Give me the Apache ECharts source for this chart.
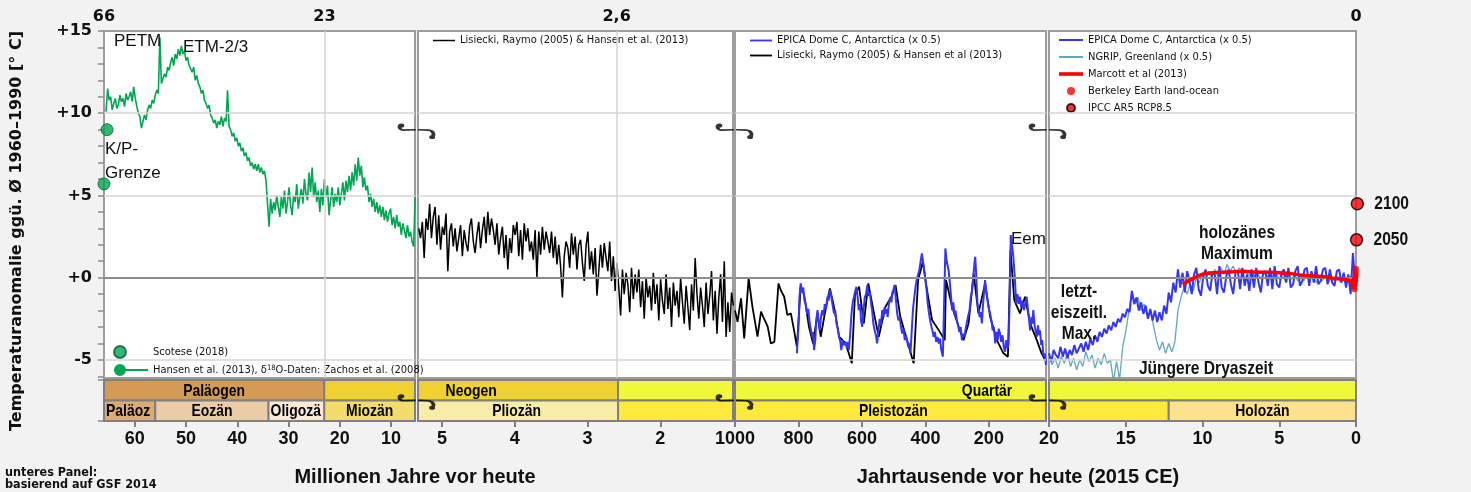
<!DOCTYPE html>
<html>
<head>
<meta charset="utf-8">
<script src="https://cdn.jsdelivr.net/npm/echarts@6.0.0/dist/echarts.min.js"></script>
<style>
html,body{margin:0;padding:0;background:#f2f2f2;overflow:hidden}
#c{width:1471px;height:492px}
</style>
</head>
<body>
<div id="c"></div>
<script>
// ================= DATA =================
// Panel 1 (Ma): Hansen et al. green curve, regular sampling
const greenStart = 65.6, greenStep = 0.3;
const greenValues = [
10.1,11.5,10.8,11.0,10.2,10.6,10.9,10.3,10.5,11.1,
10.7,10.9,10.4,11.2,10.8,11.0,11.3,10.7,11.6,10.9,
10.4,10.0,9.8,9.1,9.5,9.9,9.6,10.2,10.5,10.3,
10.8,10.6,11.1,11.4,11.2,14.6,11.8,12.1,12.4,12.2,
12.8,12.6,13.1,13.4,12.9,13.6,13.3,13.9,13.5,14.1,
13.6,13.8,13.2,13.4,12.9,12.7,12.5,12.8,12.0,12.3,
11.8,11.6,11.2,11.4,10.8,10.6,10.3,10.5,9.9,9.7,
9.4,9.6,9.1,9.5,9.3,9.8,9.2,9.7,9.5,11.4,
9.2,9.0,8.6,8.8,8.3,8.5,8.0,8.2,7.7,7.9,
7.4,7.6,7.1,7.3,6.8,7.0,6.6,6.9,6.5,6.9,
6.4,6.7,6.3,6.5,5.9,6.0,3.1,4.8,3.9,4.6,
4.1,5.0,4.3,3.7,4.9,4.2,5.3,3.9,4.6,5.5,
4.4,3.8,5.0,4.6,5.7,4.2,4.9,5.4,4.5,6.0,
5.1,4.7,6.4,5.2,6.7,4.9,5.8,4.6,5.3,4.0,
5.4,4.4,6.0,4.9,5.6,3.8,4.7,5.5,4.3,5.1,
4.6,5.5,4.4,5.1,5.8,4.7,5.9,5.2,6.2,5.3,
6.4,5.6,6.9,5.9,7.3,6.2,6.8,5.5,6.1,5.3,
5.6,4.6,5.1,4.3,4.8,4.0,4.6,3.9,4.4,3.7,
4.3,3.5,4.1,3.4,3.9,4.2,3.2,3.7,3.0,3.8,
3.1,3.4,2.6,3.3,2.9,2.4,3.2,2.5,2.8,2.2,1.9,4.9
];
const scoteseT = [65.4, 66.0];
const scoteseV = [9.0, 5.7];

// Panel 2 (Ma): Lisiecki & Raymo / Hansen black curve, regular sampling
const lr2Start = 5.32, lr2Step = 0.025;
const lr2Values = [
3.0,2.4,3.4,1.2,3.6,2.9,4.5,2.4,3.7,4.3,
2.0,3.8,1.7,3.1,2.6,3.9,0.4,2.8,3.3,1.9,
3.0,1.6,2.4,3.2,1.3,2.9,2.1,1.6,3.1,3.6,
2.2,1.5,2.6,3.4,1.8,2.9,3.7,2.1,4.0,2.6,
3.6,2.9,2.0,3.3,1.4,2.4,3.1,1.2,2.6,0.5,
2.4,1.5,3.2,2.6,3.4,1.3,2.9,1.1,3.3,2.2,
3.0,1.6,2.2,1.1,2.9,0.0,2.8,1.4,3.1,1.7,
2.8,2.2,1.5,2.8,1.2,2.5,0.8,2.0,0.7,-1.2,
1.3,2.2,1.8,0.6,2.7,1.4,2.5,0.5,2.0,2.3,
0.9,-0.2,1.9,2.8,0.5,1.6,0.2,1.8,-1.1,0.4,
2.0,0.6,2.1,1.2,0.4,2.2,-0.2,1.3,-0.8,0.9,
-0.6,-2.3,0.5,-1.0,0.3,-0.4,-2.1,0.6,-1.3,0.2,
-0.9,0.5,-1.8,-0.2,-2.5,0.0,-1.2,-0.5,-2.0,0.3,
-1.6,-0.4,-2.6,-0.1,-1.4,-2.2,0.2,-1.9,-0.6,-3.0,
-0.3,-1.7,-0.8,-2.4,0.0,-1.5,-2.8,-0.5,-1.8,-3.2,
-0.4,-2.0,1.2,-1.0,-2.5,-0.6,-1.7,-3.0,-0.3,-2.2,
-1.1,0.4,-2.6,-0.8,-3.4,-1.2,0.2,-2.7,1.0,-3.6,
-1.5,-3.3,-0.9,-1.7
];

// Panel 3 (ka): black (Lisiecki/Hansen) and blue (EPICA x0.5), [ka, °C]
const lr3Pairs = [[1000,-2.0],[992,-2.68],[981,-1.26],[971,-3.69],[957,-0.04],[945,-1.77],[929,-3.59],[918,-2.07],[911,-2.38],[897,-2.98],[887,-4.0],[876,-3.9],[863,-0.35],[856,-0.75],[845,-1.16],[835,-2.27],[824,-2.17],[814,-3.19],[805,-4.2],[793,-0.55],[782,-1.06],[767,-2.98],[754,-4.0],[740,-2.17],[730,-3.59],[714,-1.87],[701,-0.65],[688,-1.77],[672,-3.59],[651,-4.0],[632,-5.21],[622,-1.06],[609,-0.55],[594,-2.78],[580,-0.35],[562,-2.17],[547,-3.59],[526,-1.77],[507,-1.16],[494,-0.45],[479,-2.38],[458,-3.8],[437,-5.21],[423,-0.14],[408,0.97],[395,-0.75],[379,-2.58],[358,-3.19],[339,-3.8],[335,-0.14],[316,-1.77],[295,-2.98],[280,-3.8],[264,-2.78],[248,0.26],[233,-2.17],[212,-0.35],[196,-2.38],[175,-3.8],[154,-4.6],[140,-4.81],[132,1.68],[120,-1.36],[102,-2.17],[86,-1.16],[70,-2.78],[49,-3.8],[34,-4.6],[20,-5.1]];
const epica3Pairs = [[805,-4.6],[800,-3.0],[797,-1.2],[793,-0.35],[789,-0.9],[785,-0.6],[781,-1.4],[777,-1.57],[773,-2.2],[769,-1.9],[765,-2.7],[761,-2.78],[757,-3.6],[754,-3.3],[751,-4.4],[747,-3.8],[744,-2.6],[740,-1.97],[737,-2.6],[733,-3.2],[729,-2.4],[725,-1.97],[721,-2.3],[717,-1.6],[713,-1.9],[709,-1.16],[705,-1.4],[701,-0.75],[697,-1.1],[693,-1.6],[688,-2.17],[684,-2.0],[680,-2.8],[676,-3.1],[672,-3.6],[668,-3.9],[665,-4.4],[661,-3.8],[657,-4.1],[651,-3.9],[647,-4.3],[644,-3.9],[641,-4.4],[637,-3.4],[633,-2.2],[629,-1.5],[625,-1.16],[621,-0.8],[617,-0.55],[613,-1.3],[610,-1.97],[606,-1.6],[603,-2.6],[599,-2.99],[595,-2.0],[591,-1.2],[587,-1.0],[583,-0.45],[579,-1.1],[575,-0.9],[571,-1.6],[568,-1.97],[564,-2.8],[560,-3.2],[556,-3.5],[552,-4.0],[548,-3.2],[544,-2.5],[540,-2.9],[536,-1.97],[532,-2.4],[529,-1.8],[526,-2.2],[522,-1.9],[519,-2.4],[515,-1.57],[511,-1.2],[507,-1.5],[504,-0.9],[500,-0.7],[497,-0.45],[493,-1.3],[489,-2.17],[485,-2.6],[481,-2.4],[477,-3.0],[473,-3.4],[469,-3.1],[465,-3.8],[461,-3.5],[458,-3.8],[454,-4.2],[450,-4.0],[447,-4.6],[443,-3.2],[439,-1.9],[435,-1.2],[431,-0.55],[427,-0.1],[423,0.2],[419,0.47],[415,1.0],[411,1.48],[407,0.9],[404,0.5],[400,-0.14],[396,-0.8],[393,-1.5],[390,-1.97],[386,-2.5],[382,-2.9],[378,-3.2],[374,-3.6],[370,-3.3],[366,-3.9],[362,-3.6],[358,-4.0],[354,-3.7],[350,-4.4],[345,-4.8],[341,-1.5],[337,1.78],[333,1.0],[330,0.9],[327,0.47],[323,-0.3],[319,-1.2],[316,-1.97],[312,-1.5],[308,-2.3],[305,-2.0],[301,-2.58],[297,-2.9],[293,-3.3],[289,-3.0],[285,-3.8],[281,-3.4],[277,-3.6],[273,-3.1],[269,-3.0],[265,-2.3],[261,-2.0],[257,-1.16],[253,-0.8],[248,0.3],[245,1.0],[243,1.27],[240,0.2],[236,-1.57],[233,-1.9],[229,-2.4],[226,-2.1],[222,-2.78],[219,-1.8],[215,-0.8],[212,-0.14],[208,-0.9],[204,-1.4],[200,-1.9],[196,-2.17],[192,-2.6],[188,-3.2],[184,-3.0],[180,-4.0],[176,-3.3],[172,-3.8],[169,-3.1],[165,-3.4],[161,-3.9],[157,-3.5],[153,-4.2],[149,-4.5],[145,-3.8],[141,-4.3],[138,-4.0],[134,-1.0],[131,2.59],[127,2.0],[123,1.27],[119,0.2],[116,-0.8],[114,-1.57],[110,-1.0],[106,-1.6],[102,-1.16],[98,-1.8],[94,-1.4],[89,-1.97],[85,-1.5],[81,-1.16],[77,-1.9],[73,-2.6],[70,-3.2],[66,-2.4],[63,-2.8],[60,-1.97],[56,-2.9],[52,-3.3],[49,-3.6],[45,-2.9],[42,-3.5],[39,-3.2],[35,-4.1],[32,-3.8],[28,-4.8],[24,-4.6],[20,-5.3]];

// Panel 4 (ka): EPICA blue, NGRIP teal (regular sampling), Marcott red
const epica4Start = 20, epica4Step = 0.15;
const epica4Values = [
-4.6,-5.1,-4.4,-4.7,-4.9,-4.2,-4.8,-4.3,-4.9,-4.4,
-4.7,-4.1,-4.6,-4.3,-4.0,-4.5,-3.9,-4.4,-3.7,-4.1,
-3.5,-3.9,-3.3,-3.6,-3.1,-3.4,-2.9,-3.2,-2.7,-3.0,
-2.5,-2.7,-2.2,-2.4,-1.9,-2.1,-0.8,-1.6,-1.2,-2.0,
-1.5,-2.2,-1.7,-2.5,-1.9,-2.6,-2.0,-2.7,-2.1,-2.6,
-1.7,-2.2,-0.9,-1.5,-0.3,-0.9,0.5,-0.6,0.3,-0.9,
0.4,-0.2,-1.0,0.2,0.6,-0.7,-1.1,0.1,0.5,-0.5,
-0.8,0.3,0.2,-1.0,0.7,-0.6,-0.9,0.1,0.5,-0.4,
-1.0,0.3,0.4,-0.7,0.6,-0.5,0.2,-0.8,0.5,-0.6,
0.6,-0.3,-0.9,0.3,0.4,-0.5,0.6,-0.7,0.7,-0.4,
-0.6,0.3,0.5,-0.3,0.6,-0.6,-0.4,0.4,0.7,-0.5,
-0.2,0.5,0.6,-0.5,0.4,-0.3,0.7,-0.4,-0.2,0.5,
0.6,-0.4,0.5,-0.3,-0.5,0.4,0.5,-0.3,0.3,-0.6,
0.2,-1.0,1.5,-0.5
];
const ngripStart = 20, ngripStep = 0.2;
const ngripValues = [
-4.7,-5.3,-4.9,-5.5,-4.8,-5.2,-4.6,-5.4,-4.9,-5.6,
-5.0,-5.4,-4.5,-5.1,-4.7,-5.5,-4.9,-5.3,-4.6,-5.2,
-5.0,-6.3,-5.1,-6.2,-4.2,-3.3,-2.1,-0.8,-1.6,-1.2,
-2.0,-1.6,-2.4,-2.0,-2.9,-3.8,-4.4,-3.9,-4.6,-4.0,
-4.5,-3.9,-2.0,-1.2,-0.6,-1.0,-0.4,-0.8,0.0,-0.3,
0.3,-0.1,0.4,0.0,0.5,0.1,0.6,0.2,0.8,0.4,
0.7,0.3,0.6,0.2,0.5,0.1,0.4,0.0,0.3,-0.1,
0.3,0.0,0.4,0.0,0.3,-0.1,0.2,-0.2,0.2,-0.1,
0.2,-0.2,0.1,-0.2,0.2,-0.1,0.1,-0.3,0.1,-0.2,
0.1,-0.3,0.0,-0.2,0.1,-0.3,0.0,-0.2,0.1,-0.2,
0.0
];
const marcottT = [11.3,10.8,10.3,9.8,9.3,8.8,8.0,7.3,6.5,5.8,5.0,4.3,3.5,2.8,2.0,1.4,0.8,0.4,0.15];
const marcottV = [-0.4,-0.15,0.1,0.25,0.3,0.32,0.36,0.38,0.34,0.33,0.3,0.25,0.15,0.1,0.05,-0.05,-0.1,-0.2,-0.45];
const berkT = [0.165,0.155,0.145,0.135,0.125,0.115,0.105,0.095,0.085,0.075,0.065,0.055,0.045,0.035,0.025,0.015,0.005];
const berkV = [-0.45,-0.3,-0.55,-0.35,-0.5,-0.4,-0.7,-0.45,-0.3,-0.1,-0.2,-0.05,-0.15,0.05,0.2,0.35,0.55];
const ipccT = [-0.035,-0.085];
const ipccV = [2.3,4.5];
const ipccYears = ['2050','2100'];

// Lower panel: geological time scale (Ma)
const periodNames = ['Paläogen','Neogen','Quartär'];
const periodStart = [66, 23.03, 2.58];
const periodEnd   = [23.03, 2.58, 0];
const epochNames = ['Paläozän','Eozän','Oligozän','Miozän','Pliozän','Pleistozän','Holozän'];
const epochStart = [66, 56, 33.9, 23.03, 5.33, 2.58, 0.0122];
const epochEnd   = [56, 33.9, 23.03, 5.33, 2.58, 0.0122, 0];

// Tick labels
const yTickLabels = [15, 10, 5, 0, -5];
const yMinorTicks = [-6,-5,-4,-3,-2,-1,0,1,2,3,4,5,6,7,8,9,10,11,12,13,14,15];
const topTicks = [[66, 23], [2.6], [], [0]];
const bottomTicks = [[60,50,40,30,20,10],[5,4,3,2],[1000,800,600,400,200],[20,15,10,5,0]];

// ================= STYLE / LAYOUT =================
const periodColors = ['#d49b57','#efd130','#f1f838'];
const epochColors = ['#dcab74','#ebcca6','#fae8d8','#f2dd6c','#f8eda8','#fdea3d','#fee18e'];
const F_COND = "'DejaVu Sans Condensed','Liberation Sans Narrow',sans-serif";
const F_SANS = "'Liberation Sans',Arial,sans-serif";
const F_DJ = "'DejaVu Sans',sans-serif";
const NARROW_SCALE = 0.82;
const CELL_FONT = "bold 17px " + F_SANS;

const G = [{left:104,width:311},{left:418,width:315},{left:735,width:311},{left:1049,width:307}];
const dom = [{min:5.33,max:66},{min:1.0,max:5.33},{min:20,max:1000},{min:0,max:20}];
const unit = [1,1,1000,1000];
const boundaryVal = [5.33, 1.0, 20];
const breakY = [8.9, 0.93];

const HANSEN = 'Hansen et al. (2013), δ18O-Daten: Zachos et al. (2008)';
const SCOTESE = 'Scotese (2018)';
const LR2 = 'Lisiecki, Raymo (2005) & Hansen et al. (2013)';
const LR3 = 'Lisiecki, Raymo (2005) & Hansen et al (2013)';
const EPICA = 'EPICA Dome C, Antarctica (x 0.5)';
const NGRIP = 'NGRIP, Greenland (x 0.5)';
const MARCOTT = 'Marcott et al (2013)';
const BERK = 'Berkeley Earth land-ocean';
const IPCC = 'IPCC AR5 RCP8.5';

const stepPairs = (s, st, vals) => vals.map((v,i) => [+(s - st*i).toFixed(4), v]);
const zip = (ts, vs) => ts.map((t,i) => [t, vs[i]]);

const cells = [];
periodNames.forEach((n,i)=>cells.push({name:n, s:periodStart[i], e:periodEnd[i], row:1, color:periodColors[i]}));
epochNames.forEach((n,i)=>cells.push({name:n, s:epochStart[i], e:epochEnd[i], row:0, color:epochColors[i]}));

const BREAK_PATH = 'path://M2.2,3.2A1,1 0 1 1 4.2,3.2A1,1 0 1 1 2.2,3.2ZM3.2,2.2C0.8,3 0.8,6.5 5,6.8L16,6.5M18,6.5L27,6.8C31.5,7.2 33,10.5 30.5,12.2M29.5,12.3A1,1 0 1 1 31.5,12.3A1,1 0 1 1 29.5,12.3Z';
const ICON_LINE = 'path://M0,0H24V2H0Z';
const ICON_THIN = 'path://M0,0H24V1.6H0Z';
const ICON_THICK = 'path://M0,0H24V3.6H0Z';
const ICON_DOTLINE = 'path://M0,6A6,6 0 1 1 12,6A6,6 0 1 1 0,6ZM11,5.1H34V6.9H11Z';
const ICON_DOTLEFT = 'path://M0,6A6,6 0 1 1 12,6A6,6 0 1 1 0,6ZM34,6';

// ================= OPTION =================
const grids = [];
G.forEach(g => grids.push({left:g.left, width:g.width, top:31, height:347, show:true, backgroundColor:'#ffffff', borderColor:'#9d9d9d', borderWidth:2, outerBoundsMode:'none'}));
G.forEach(g => grids.push({left:g.left, width:g.width, top:380, height:41, show:false, outerBoundsMode:'none'}));

const xAxes = [], yAxes = [];
for (let k=0;k<4;k++){
  xAxes.push({gridIndex:k, type:'value', position:'top', min:dom[k].min, max:dom[k].max, inverse:true,
    axisLine:{show:false}, axisTick:{show:false}, splitLine:{show:false},
    axisLabel:{show: topTicks[k].length>0, customValues: topTicks[k], showMinLabel:true, showMaxLabel:true,
      formatter: v => String(v).replace('.', ','), fontFamily:F_DJ, fontWeight:'bold', fontSize:16, color:'#111', margin:6}});
}
for (let k=0;k<4;k++){
  xAxes.push({gridIndex:4+k, type:'value', position:'bottom', min:dom[k].min, max:dom[k].max, inverse:true,
    axisLine:{show:false}, splitLine:{show:false},
    axisTick:{show:true, customValues: bottomTicks[k], length:6, lineStyle:{color:'#808080', width:2}},
    axisLabel:{customValues: bottomTicks[k], showMinLabel:true, showMaxLabel:true, formatter: v => String(v),
      fontFamily:F_SANS, fontWeight:'bold', fontSize:18, color:'#111', margin:9}});
}
for (let k=0;k<4;k++){
  if (k===0){
    yAxes.push({gridIndex:0, type:'value', min:-6.1, max:15, axisLine:{show:false}, splitLine:{show:false},
      axisTick:{show:true, customValues:yMinorTicks, length:6, lineStyle:{color:'#8a8a8a', width:1.5}},
      axisLabel:{customValues:yTickLabels, showMinLabel:true, showMaxLabel:true, formatter: v => v>=0 ? '+'+v : String(v), fontFamily:F_DJ, fontWeight:'bold', fontSize:16, color:'#111', margin:12}});
  } else {
    yAxes.push({gridIndex:k, type:'value', min:-6.1, max:15, show:false});
  }
}
for (let k=0;k<4;k++){
  if (k===0){
    yAxes.push({gridIndex:4, type:'value', min:0, max:2, axisLine:{show:false}, splitLine:{show:false}, axisLabel:{show:false},
      axisTick:{show:true, customValues:[0,2], length:6, lineStyle:{color:'#8a8a8a', width:1.5}}});
  } else {
    yAxes.push({gridIndex:4+k, type:'value', min:0, max:2, show:false});
  }
}

const series = [];
// grid lines
for (let k=0;k<4;k++){
  const ml = [{yAxis:10},{yAxis:5},{yAxis:-5},{yAxis:0, lineStyle:{color:'#8c8c8c', width:2}}];
  if (k===0) ml.push({xAxis:23});
  if (k===1) ml.push({xAxis:2.6});
  series.push({type:'line', name:'_grid'+k, xAxisIndex:k, yAxisIndex:k, data:[], z:1, silent:true,
    markLine:{silent:true, symbol:['none','none'], label:{show:false}, animation:false,
      lineStyle:{color:'#d4d4d4', width:1.5, type:'solid'}, data: ml}});
}
// panel 1
series.push({type:'line', name:HANSEN, xAxisIndex:0, yAxisIndex:0, data: stepPairs(greenStart, greenStep, greenValues),
  symbol:'none', lineStyle:{color:'#00a651', width:1.6}, itemStyle:{color:'#00a651'}, z:3});
series.push({type:'scatter', name:SCOTESE, xAxisIndex:0, yAxisIndex:0, data: zip(scoteseT, scoteseV), symbolSize:12, clip:false,
  itemStyle:{color:'#00a651', borderColor:'#0d5f30', borderWidth:1}, z:5});
// panel 2
series.push({type:'line', name:LR2, xAxisIndex:1, yAxisIndex:1, data: stepPairs(lr2Start, lr2Step, lr2Values),
  symbol:'none', lineStyle:{color:'#000', width:1.5}, itemStyle:{color:'#000'}, z:3});
// panel 3
series.push({type:'line', name:LR3, xAxisIndex:2, yAxisIndex:2, data: lr3Pairs,
  symbol:'none', lineStyle:{color:'#000', width:1.8}, itemStyle:{color:'#000'}, z:3});
series.push({type:'line', name:EPICA, xAxisIndex:2, yAxisIndex:2, data: epica3Pairs,
  symbol:'none', lineStyle:{color:'#3535f2', width:2}, itemStyle:{color:'#3535f2'}, z:4});
// panel 4
series.push({type:'line', name:NGRIP, xAxisIndex:3, yAxisIndex:3, data: stepPairs(ngripStart, ngripStep, ngripValues),
  symbol:'none', lineStyle:{color:'#5fa8bd', width:1.3}, itemStyle:{color:'#5fa8bd'}, z:3});
series.push({type:'line', name:EPICA, xAxisIndex:3, yAxisIndex:3, data: stepPairs(epica4Start, epica4Step, epica4Values),
  symbol:'none', lineStyle:{color:'#3535f2', width:2}, itemStyle:{color:'#3535f2'}, z:4});
series.push({type:'line', name:MARCOTT, xAxisIndex:3, yAxisIndex:3, data: zip(marcottT, marcottV), smooth:true,
  symbol:'none', lineStyle:{color:'#ff0000', width:3.5}, itemStyle:{color:'#ff0000'}, z:5});
series.push({type:'scatter', name:BERK, xAxisIndex:3, yAxisIndex:3, data: zip(berkT, berkV), symbolSize:6, clip:false,
  itemStyle:{color:'#ff0000'}, z:6});
series.push({type:'scatter', name:IPCC, xAxisIndex:3, yAxisIndex:3, data: zip(ipccT, ipccV), symbolSize:12, clip:false,
  itemStyle:{color:'#ff0000', borderColor:'#000', borderWidth:1.5}, z:7});
// lower panel cells
for (let k=0;k<4;k++){
  series.push({type:'custom', name:'_cells'+k, xAxisIndex:4+k, yAxisIndex:4+k, clip:false, silent:true, z:3,
    data: cells.map((c,i)=>[c.s*unit[k], c.e*unit[k], c.row, i]),
    renderItem: (params, api) => {
      const cs = params.coordSys;
      const a = api.coord([api.value(0), api.value(2)+1]);
      const b = api.coord([api.value(1), api.value(2)]);
      const x0 = Math.max(Math.min(a[0],b[0]), cs.x);
      const x1 = Math.min(Math.max(a[0],b[0]), cs.x+cs.width);
      if (x1 - x0 < 0.5) return null;
      return {type:'rect', shape:{x:x0, y:a[1], width:x1-x0, height:b[1]-a[1]},
        style:{fill: cells[api.value(3)].color, stroke:'#808080', lineWidth:2}};
    }});
}
// break marks
for (let k=0;k<3;k++){
  [[k, breakY[0]],[4+k, breakY[1]]].forEach(([gi, yv]) => {
    series.push({type:'scatter', name:'_brk'+gi, xAxisIndex:gi, yAxisIndex:gi, data:[[boundaryVal[k], yv]], clip:false, silent:true,
      symbol:BREAK_PATH, symbolSize:[34,14], symbolOffset:[1.5,0], z:10,
      itemStyle:{color:'rgba(0,0,0,0)', borderColor:'#000', borderWidth:2.4}});
  });
}

const legendText = {fontFamily:F_COND, fontSize:11, color:'#111'};
const legends = [
  {left:113, top:345, padding:0, orient:'vertical', itemGap:5, itemWidth:34, itemHeight:12, selectedMode:false,
   data:[{name:SCOTESE, icon:ICON_DOTLEFT}, {name:HANSEN, icon:ICON_DOTLINE}],
   formatter: n => n===HANSEN ? 'Hansen et al. (2013), δ{sup|18}O-Daten: Zachos et al. (2008)' : n,
   textStyle:Object.assign({rich:{sup:{fontFamily:F_COND, fontSize:7.5, verticalAlign:'top', lineHeight:9, color:'#111'}}}, legendText)},
  {left:433, top:35, padding:0, orient:'vertical', itemGap:4, itemWidth:22, itemHeight:8, selectedMode:false,
   data:[{name:LR2, icon:ICON_THIN}], textStyle:legendText},
  {left:750, top:35, padding:0, orient:'vertical', itemGap:4, itemWidth:22, itemHeight:8, selectedMode:false,
   data:[{name:EPICA, icon:ICON_LINE}, {name:LR3, icon:ICON_LINE}], textStyle:legendText},
  {left:1059, top:34.5, padding:0, orient:'vertical', itemGap:6, itemWidth:24, itemHeight:8, selectedMode:false,
   data:[{name:EPICA, icon:ICON_LINE}, {name:NGRIP, icon:ICON_LINE}, {name:MARCOTT, icon:ICON_THICK}, {name:BERK, icon:'circle'}, {name:IPCC, icon:'circle'}], textStyle:legendText}
];

const chart = echarts.init(document.getElementById('c'), null, {width:1471, height:492});
chart.setOption({
  animation:false,
  backgroundColor:'#f2f2f2',
  textStyle:{fontFamily:F_SANS},
  grid:grids, xAxis:xAxes, yAxis:yAxes, legend:legends, series:series
});

// ================= TEXT (annotations, titles, lower-panel labels) =================
const mctx = document.createElement('canvas').getContext('2d');
function pxOfMa(t){
  for (let k=0;k<4;k++){
    const v = t*unit[k];
    if (v >= dom[k].min-1e-9 && v <= dom[k].max+1e-9) return chart.convertToPixel({gridIndex:4+k}, [v, 0])[0];
  }
  return null;
}
function txt(x, y, text, font, align, extra){
  return Object.assign({type:'text', x:x, y:y, z:100, silent:true,
    style:{text:text, font:font, fill:'#111', align:align||'left', textAlign:align||'left', verticalAlign:'middle', textVerticalAlign:'middle'}}, extra||{});
}
const narrow = {scaleX: NARROW_SCALE};
const gfx = [];
cells.forEach(c => {
  const p0 = pxOfMa(c.s), p1 = pxOfMa(c.e);
  const left = Math.min(p0,p1), right = Math.max(p0,p1), w = right-left;
  const y = chart.convertToPixel({gridIndex:4}, [dom[0].min, c.row+0.5])[1];
  mctx.font = CELL_FONT;
  const fits = mctx.measureText(c.name).width*NARROW_SCALE <= w - 4;
  const el = txt(fits ? (left+right)/2 : left+2, y+1, c.name, CELL_FONT, fits ? 'center' : 'left', {scaleX: NARROW_SCALE});
  el.style.fill = '#000';
  if (!fits){ el.style.width = (w - 3)/NARROW_SCALE; el.style.overflow = 'truncate'; el.style.ellipsis = ''; }
  gfx.push(el);
});
const ANN = "17px " + F_SANS;
const ANNB = "bold 19px " + F_SANS;
gfx.push(txt(114, 41, 'PETM', ANN));
gfx.push(txt(183, 47, 'ETM-2/3', ANN));
gfx.push(txt(105, 149, 'K/P-', ANN));
gfx.push(txt(105, 173, 'Grenze', ANN));
gfx.push(txt(1011, 239, 'Eem', ANN));
gfx.push(txt(1079, 292, 'letzt-', ANNB, 'center', narrow));
gfx.push(txt(1079, 313, 'eiszeitl.', ANNB, 'center', narrow));
gfx.push(txt(1079, 334, 'Max.', ANNB, 'center', narrow));
gfx.push(txt(1237, 233, 'holozänes', ANNB, 'center', narrow));
gfx.push(txt(1237, 254, 'Maximum', ANNB, 'center', narrow));
gfx.push(txt(1206, 369, 'Jüngere Dryaszeit', ANNB, 'center', narrow));
ipccT.forEach((t,i) => {
  const p = chart.convertToPixel({gridIndex:3}, [t, ipccV[i]]);
  gfx.push(txt(p[0]+17, p[1], ipccYears[i], ANNB, 'left', narrow));
});
gfx.push(txt(415, 477, 'Millionen Jahre vor heute', "bold 20px " + F_SANS, 'center'));
gfx.push(txt(1018, 477, 'Jahrtausende vor heute (2015 CE)', "bold 20px " + F_SANS, 'center'));
gfx.push(txt(5, 473, 'unteres Panel:', "bold 12.5px " + F_COND));
gfx.push(txt(5, 485, 'basierend auf GSF 2014', "bold 12.5px " + F_COND));
gfx.push(txt(17, 231, 'Temperaturanomalie ggü. Ø 1960–1990 [° C]', "bold 16px " + F_DJ, 'center', {rotation: Math.PI/2}));
chart.setOption({graphic:{elements:gfx}});
</script>
</body>
</html>
